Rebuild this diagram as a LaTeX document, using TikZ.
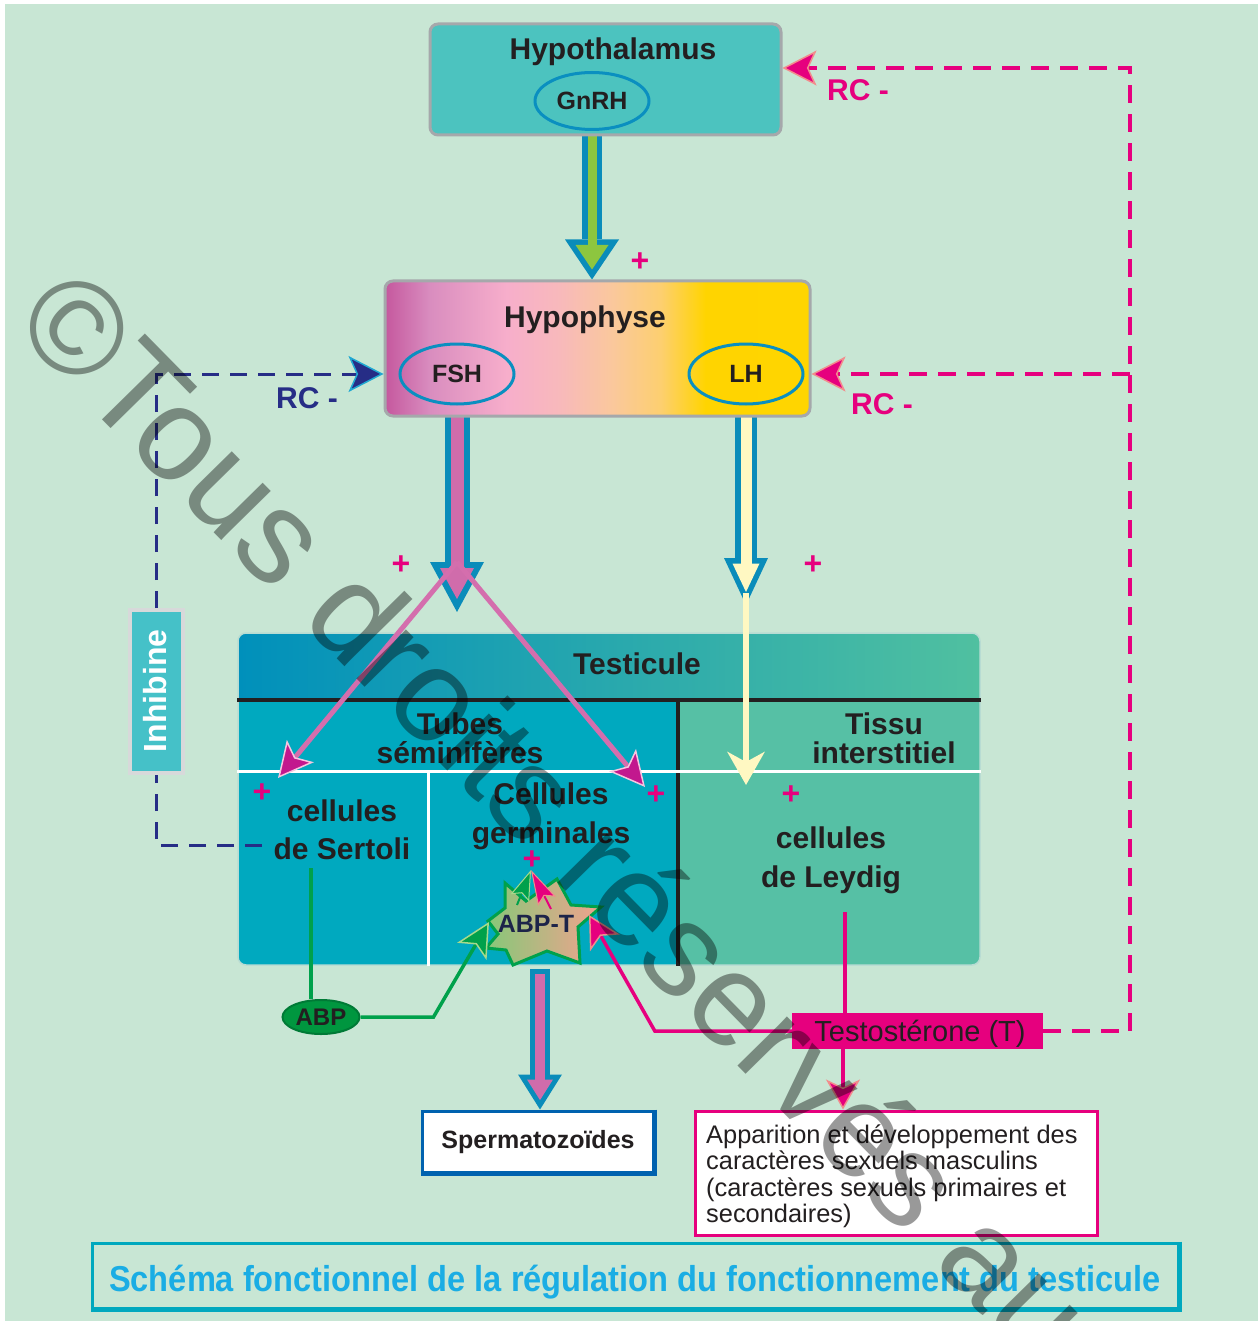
\documentclass[tikz,border=0pt]{standalone}
\usepackage{fontspec}
\setmainfont{Liberation Sans}
\usepackage{graphicx}
\usetikzlibrary{arrows.meta,shapes.geometric,calc}
\pgfdeclarelayer{back}
\pgfsetlayers{back,main}
\definecolor{bgc}{HTML}{C8E6D4}
\definecolor{hypofill}{HTML}{4CC3BF}
\definecolor{boxgray}{HTML}{A5A8AB}
\definecolor{ellblue}{HTML}{0A8FC0}
\definecolor{arrblue}{HTML}{0A8CBA}
\definecolor{arrgreen}{HTML}{8DC63F}
\definecolor{arrpink}{HTML}{D06CAB}
\definecolor{paley}{HTML}{FFF8C2}
\definecolor{pinkline}{HTML}{D46EAD}
\definecolor{tipmag}{HTML}{C2188E}
\definecolor{tipedge}{HTML}{F5C6DF}
\definecolor{mag}{HTML}{E6007E}
\definecolor{salmon}{HTML}{F28C8C}
\definecolor{navy}{HTML}{262D86}
\definecolor{cyanedge}{HTML}{20A8D2}
\definecolor{headA}{HTML}{0090BB}
\definecolor{headB}{HTML}{00B5C2}
\definecolor{headC}{HTML}{50C0A0}
\definecolor{tubefill}{HTML}{00A9BF}
\definecolor{tissufill}{HTML}{56C0A5}
\definecolor{tbord}{HTML}{B8DCD3}
\definecolor{inhfill}{HTML}{45C1C8}
\definecolor{inhgray}{HTML}{D7D9DA}
\definecolor{titleblue}{HTML}{1AADE4}
\definecolor{titleedge}{HTML}{00A8BE}
\definecolor{abpgreen}{HTML}{00963F}
\definecolor{abpedge}{HTML}{007A36}
\definecolor{gline}{HTML}{00A14B}
\definecolor{lightg}{HTML}{A6D98B}
\definecolor{starA}{HTML}{86C878}
\definecolor{starB}{HTML}{F2A28E}
\definecolor{spermedge}{HTML}{0062AF}
\definecolor{txt}{HTML}{231F20}
\definecolor{abptxt}{HTML}{1D2449}
\definecolor{hA}{HTML}{C5589E}
\definecolor{hB}{HTML}{D98DBF}
\definecolor{hC}{HTML}{F7AECB}
\definecolor{hD}{HTML}{F8B9BB}
\definecolor{hE}{HTML}{FAC89C}
\definecolor{hF}{HTML}{FDCF70}
\definecolor{hG}{HTML}{FFD400}
\definecolor{hH}{HTML}{FFD500}
\pgfdeclarehorizontalshading{hyphshade}{100bp}{color(0bp)=(hA); color(25bp)=(hA); color(30.3bp)=(hB); color(39.3bp)=(hC); color(45.6bp)=(hD); color(51.8bp)=(hE); color(57.4bp)=(hF); color(62.7bp)=(hG); color(75bp)=(hH); color(100bp)=(hH)}
\newcommand\fzb[2]{\fontsize{#1}{#2}\selectfont\bfseries}
\newcommand\fzr[2]{\fontsize{#1}{#2}\selectfont}
\tikzset{
  hbox/.style={draw=boxgray, line width=3pt, rounded corners=8pt, inner sep=0pt},
  ell/.style={ellipse, draw=ellblue, line width=3pt, inner sep=0pt, text=txt, font=\fzb{25}{30}},
  lab/.style={text=txt, inner sep=0pt, font=\fzb{30}{36}},
  plus/.style={text=mag, inner sep=0pt, font=\fzb{32}{36}},
  rc/.style={inner sep=0pt, font=\fzb{30}{36}},
  pinkl/.style={pinkline, line width=5pt},
  navyd/.style={navy, line width=3pt, dash pattern=on 17pt off 11pt},
  magd/.style={mag, line width=4.5pt, dash pattern=on 18pt off 11pt},
  gl/.style={gline, line width=3.5pt},
  ml/.style={mag, line width=3.5pt},
  magtip/.style={-{Stealth[length=35pt,width=35pt,inset=8pt,color=tipedge,fill=tipmag,line width=1.5pt]}},
  rctip/.style={-{Stealth[length=34pt,width=35pt,inset=8pt,color=salmon,fill=mag,line width=1.5pt]}},
}
\begin{document}
\begin{tikzpicture}[x=1pt,y=-1pt]
\useasboundingbox (0,0) rectangle (1258,1321);
\begin{pgfonlayer}{back}
  \fill[white] (0,0) rectangle (1258,1321);
  \fill[bgc] (5,4) rectangle (1258,1321);
\end{pgfonlayer}

% Hypothalamus
\node[hbox, fill=hypofill, minimum width=351pt, minimum height=111pt] (hypo) at (605.5,79.5) {};
\node[lab, anchor=base] (hypot) at (613,60) {Hypothalamus};
\node[ell, minimum width=114pt, minimum height=57pt] (gnrh) at (592,101) {GnRH};

% Hypophyse
\node[hbox, shade, shading=hyphshade, minimum width=425pt, minimum height=135pt] (hyph) at (597.5,348.5) {};
\node[lab, anchor=base] (hypht) at (585,327) {Hypophyse};
\node[ell, minimum width=114pt, minimum height=60pt] (fsh) at (457,374) {FSH};
\node[ell, minimum width=114pt, minimum height=60pt] (lh) at (746,374) {LH};

% Testicule
\begin{scope}
  \clip[rounded corners=8pt] (238,633) rectangle (980,965);
  \fill[tubefill] (238,633) rectangle (980,965);
  \fill[tissufill] (678,700) rectangle (980,965);
  \shade[left color=headA, middle color=headB, right color=headC] (238,633) rectangle (980,700);
\end{scope}
\node[draw=tbord, line width=1.5pt, rounded corners=8pt, minimum width=742pt, minimum height=332pt, inner sep=0pt] (testi) at (609,799) {};
\coordinate (hl) at (0,700);
\draw[line width=4pt, txt] (testi.west |- hl) -- (testi.east |- hl);
\coordinate (vl) at (678,700);
\draw[line width=4pt, txt] (vl) -- (vl |- testi.south);
\coordinate (wl) at (0,771);
\draw[line width=3pt, white] (testi.west |- wl) -- (testi.east |- wl);
\coordinate (wv) at (428,771);
\draw[line width=3pt, white] (wv) -- (wv |- testi.south);
\node[lab, anchor=base] (testit) at (637,674) {Testicule};
\node[lab, anchor=base] (tub1) at (460,734) {Tubes};
\node[lab, anchor=base] (tub2) at (460,763) {séminifères};
\node[lab, anchor=base] (tis1) at (884,734) {Tissu};
\node[lab, anchor=base] (tis2) at (884,763) {interstitiel};
\node[lab, anchor=base] (ser1) at (342,821) {cellules};
\node[lab, anchor=base] (ser2) at (342,859) {de Sertoli};
\node[lab, anchor=base] (ger1) at (551,804) {Cellules};
\node[lab, anchor=base] (ger2) at (551,843) {germinales};
\node[lab, anchor=base] (ley1) at (831,848) {cellules};
\node[lab, anchor=base] (ley2) at (831,887) {de Leydig};

% ABP-T star
\path[draw=gline, line width=3pt, left color=starA, right color=starB]
  (505,883) -- (526,901) -- (557,879) -- (571,905) -- (601,907) -- (578,927) -- (580,963)
  -- (547,951) -- (513,965) -- (506,950) -- (486,948) -- (498,934) -- (488,921) -- (505,908) -- cycle;
\node[inner sep=0pt, text=abptxt, font=\fzb{25}{30}, anchor=base] (abpt) at (536,932) {ABP-T};

% Inhibine
\node[draw=inhgray, line width=4pt, fill=inhfill, minimum width=53pt, minimum height=163pt, inner sep=0pt] (inh) at (156,691.5) {};
\node[rotate=90, text=white, inner sep=0pt, font=\fzb{32}{36}] (inht) at (155,691) {Inhibine};

% ABP
\node[ellipse, fill=abpgreen, draw=abpedge, line width=2pt, minimum width=77pt, minimum height=34pt, inner sep=0pt, font=\fzb{24}{28}, text=txt] (abp) at (321,1017) {ABP};

% Spermatozoides
\node[draw=spermedge, line width=3pt, fill=white, minimum width=231pt, minimum height=61pt, inner sep=0pt] (sperm) at (537.5,1141.5) {};
\draw[spermedge, line width=2.5pt] ($(sperm.north east)+(1.5,0)$) -- ($(sperm.south east)+(1.5,1.5)$) -- ($(sperm.south west)+(0,1.5)$);
\node[lab, font=\fzb{25}{30}, anchor=base] (spermt) at (538,1148) {Spermatozoïdes};

% Testosterone
\node[fill=mag, minimum width=251pt, minimum height=36pt, inner sep=0pt] (testo) at (917.5,1031) {};
\node[text=txt, inner sep=0pt, font=\fzr{29}{34}, anchor=base] (testot) at (920,1041.5) {Testostérone (T)};

% Apparition box
\node[draw=mag, line width=3pt, fill=white, minimum width=402pt, minimum height=124pt, inner sep=0pt] (appa) at (896,1173) {};
\node[text=txt, inner sep=0pt, font=\fzr{25.4}{26}, anchor=base west] (ap1) at (706,1143) {Apparition et développement des};
\node[text=txt, inner sep=0pt, font=\fzr{25.4}{26}, anchor=base west] (ap2) at (706,1169) {caractères sexuels masculins};
\node[text=txt, inner sep=0pt, font=\fzr{25.4}{26}, anchor=base west] (ap3) at (706,1196) {(caractères sexuels primaires et};
\node[text=txt, inner sep=0pt, font=\fzr{25.4}{26}, anchor=base west] (ap4) at (706,1222) {secondaires)};

% Title
\node[draw=titleedge, line width=3pt, minimum width=1086pt, minimum height=65pt, inner sep=0pt] (title) at (635,1275.5) {};
\draw[titleedge, line width=2.5pt] ($(title.north east)+(1.5,0)$) -- ($(title.south east)+(1.5,1.5)$) -- ($(title.south west)+(0,1.5)$);
\node[text=titleblue, inner sep=0pt, font=\fzb{36}{40}, anchor=base] (titlet) at (635,1291) {\scalebox{0.905}[1]{Schéma fonctionnel de la régulation du fonctionnement du testicule}};

% plus signs
\node[plus] (p1) at (640,262) {+};
\node[plus] (p2) at (401,565) {+};
\node[plus] (p3) at (813,565) {+};
\node[plus] (p4) at (262,793) {+};
\node[plus] (p5) at (656,795) {+};
\node[plus] (p6) at (791,795) {+};
\node[plus] (p7) at (532,860) {+};

% RC labels
\node[rc, text=mag, anchor=base] (rc1) at (858,101) {RC -};
\node[rc, text=mag, anchor=base] (rc2) at (882,414) {RC -};
\node[rc, text=navy, anchor=base] (rc3) at (307,408) {RC -};

% block arrows (behind)
\coordinate (fshtip) at (457,612);
\coordinate (lhtip) at (746,605);
\coordinate (spx) at (540,0);
\begin{pgfonlayer}{back}
  \draw[line width=20pt, arrblue, -{Triangle[width=54pt,length=40pt,line width=0pt]}] (gnrh.center) -- (gnrh.center |- hyph.north);
  \draw[line width=9pt, arrgreen, -{Triangle[width=33pt,length=24.5pt,line width=0pt]}, shorten >=10pt] (gnrh.center) -- (gnrh.center |- hyph.north);
  \draw[line width=25pt, arrblue, -{Triangle[width=54pt,length=50pt,line width=0pt]}] (fsh.center) -- (fshtip);
  \draw[line width=13pt, arrpink, -{Triangle[width=34pt,length=31pt,line width=0pt]}, shorten >=13pt] (fsh.center) -- (fshtip);
  \draw[line width=22pt, arrblue, -{Triangle[width=44pt,length=47pt,line width=0pt]}] (lh.center) -- (lhtip);
  \draw[line width=11pt, paley, -{Triangle[width=27pt,length=28.5pt,line width=0pt]}, shorten >=13pt] (lh.center) -- (lhtip);
  \draw[line width=20pt, arrblue, -{Triangle[width=44pt,length=35pt,line width=0pt]}, shorten <=3pt] (spx |- testi.south) -- (spx |- sperm.north);
  \draw[line width=10pt, arrpink, -{Triangle[width=26pt,length=20.6pt,line width=0pt]}, shorten >=9.4pt, shorten <=8pt] (spx |- testi.south) -- (spx |- sperm.north);
\end{pgfonlayer}

% pink lines from FSH
\coordinate (fork) at (457,562);
\coordinate (sertin) at (278,778);
\coordinate (germin) at (645,787);
\draw[pinkl, magtip] (fork) -- (sertin);
\draw[pinkl, magtip] (fork) -- (germin);

% pale yellow line from LH
\coordinate (tissuin) at (746,785);
\draw[paley, line width=6pt, -{Stealth[length=33pt,width=37pt,inset=10pt]}] ($(lhtip)+(0,-12)$) -- (tissuin);

% inhibine feedback
\coordinate (sertl) at (262,845);
\draw[navyd] (sertl) -- (inh.south |- sertl) -- (inh.south);
\draw[navyd, -{Stealth[length=35pt,width=36pt,inset=8pt,color=cyanedge,fill=navy,line width=1.5pt]}] (inh.north) -- (inh.north |- fsh.center) -- (hyph.west |- fsh.center);

% testosterone feedback
\coordinate (rcx) at (1130,0);
\coordinate (rcy) at (0,68);
\draw[magd, rctip] (testo.east) -- (rcx |- testo.east) -- (rcx |- rcy) -- (hypo.east |- rcy);
\draw[magd, rctip] (rcx |- lh.center) -- (hyph.east |- lh.center);

% ABP lines
\coordinate (sert) at (311,868);
\draw[gl] (sert) -- (sert |- abp.north);
\coordinate (abpin) at (489,922);
\draw[gl, -{Stealth[length=34pt,width=34pt,inset=8pt,color=lightg,fill=gline,line width=1.5pt]}] (abp.east) -- ++(73,0) -- (abpin);

% testosterone lines
\coordinate (leyd) at (845,912);
\draw[ml] (leyd) -- (leyd |- testo.north);
\coordinate (abpr) at (589,915);
\draw[ml, -{Stealth[length=32pt,width=34pt,inset=8pt,color=salmon,fill=mag,line width=1.5pt]}] (testo.west) -- ++(-137,0) -- (abpr);
\coordinate (tdown) at (843,1049);
\draw[ml, -{Stealth[length=30pt,width=34pt,inset=8pt,color=salmon,fill=mag,line width=1.5pt]}] (tdown) -- (tdown |- appa.north);

% ABP-T to germinales
\coordinate (plusg) at (531,870);
\coordinate (abptg) at (517,905);
\coordinate (abptm) at (551,909);
\draw[gline, line width=2pt, -{Stealth[length=30pt,width=20pt,inset=5pt,color=lightg,fill=gline,line width=1pt]}] (abptg) -- (plusg);
\draw[mag, line width=2pt, -{Stealth[length=35pt,width=20pt,inset=6pt,color=salmon,fill=mag,line width=1pt]}] (abptm) -- (plusg);

% watermark
\begin{scope}
  \clip (0,0) rectangle (1258,1321);
  \node[rotate=-45.5, anchor=mid west, inner sep=0pt, font=\fzr{132}{132}, text=black, text opacity=0.4] (wm) at (12,324) {©Tous droits réservés au};
\end{scope}
\end{tikzpicture}
\end{document}
